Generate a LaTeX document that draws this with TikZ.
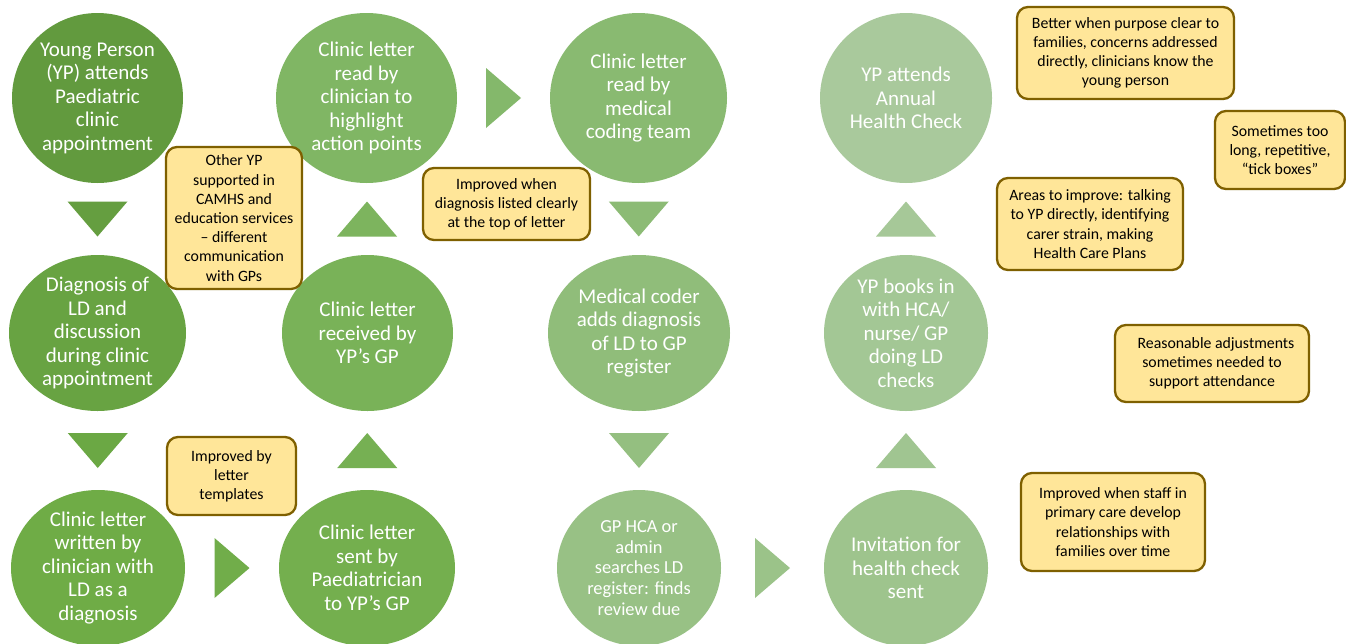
\documentclass[tikz,border=0pt]{standalone}
\usepackage{fontspec}
\setmainfont{Carlito}
\usetikzlibrary{shapes.geometric,calc}
\definecolor{c11}{HTML}{629A3E}
\definecolor{c21}{HTML}{68A342}
\definecolor{c31}{HTML}{6FAC46}
\definecolor{c32}{HTML}{74AF4E}
\definecolor{c22}{HTML}{79B258}
\definecolor{c12}{HTML}{80B664}
\definecolor{c13}{HTML}{89BA71}
\definecolor{c23}{HTML}{90BD7A}
\definecolor{c33}{HTML}{98C185}
\definecolor{c34}{HTML}{9EC48D}
\definecolor{c24}{HTML}{A3C795}
\definecolor{c14}{HTML}{A9C99C}
\definecolor{notefill}{HTML}{FFE699}
\definecolor{noteline}{HTML}{7F6000}
\tikzset{
  bubble/.style={ellipse, inner sep=0pt, outer sep=0pt, draw=none},
  btext/.style={text=white, align=center, inner sep=0pt, font=\fontsize{21}{23.5}\selectfont},
  btextsmall/.style={text=white, align=center, inner sep=0pt, font=\fontsize{18.4}{20.7}\selectfont},
  note/.style={draw=noteline, line width=2.3pt, fill=notefill, rounded corners=11pt,
    align=center, inner sep=0pt, text=black, font=\fontsize{15.8}{19.2}\selectfont},
  tridown/.pic={\fill (-30,-17.5) -- (30,-17.5) -- (0,17.5) -- cycle;},
  triup/.pic={\fill (-30,17.5) -- (30,17.5) -- (0,-17.5) -- cycle;},
  triright/.pic={\fill (-17.5,-30) -- (-17.5,30) -- (17.5,0) -- cycle;},
}
\begin{document}
\begin{tikzpicture}[x=1pt,y=-1pt]
\fill[white] (0,0) rectangle (1346,643);
\clip (0,0) rectangle (1346,643);
% circles row 1
\node[bubble, fill=c11, minimum width=171pt, minimum height=170pt] (n11) at (97.5,98) {};
\node[bubble, fill=c12, minimum width=181pt, minimum height=170pt] (n12) at (366.5,98) {};
\node[bubble, fill=c13, minimum width=177pt, minimum height=170pt] (n13) at (638.5,98) {};
\node[bubble, fill=c14, minimum width=172pt, minimum height=170pt] (n14) at (906,98) {};
% row 2
\node[bubble, fill=c21, minimum width=177pt, minimum height=156pt] (n21) at (97.5,333) {};
\node[bubble, fill=c22, minimum width=171pt, minimum height=156pt] (n22) at (367.5,333) {};
\node[bubble, fill=c23, minimum width=182pt, minimum height=156pt] (n23) at (639,333) {};
\node[bubble, fill=c24, minimum width=164pt, minimum height=156pt] (n24) at (906,333) {};
% row 3
\node[bubble, fill=c31, minimum width=174pt, minimum height=156pt] (n31) at (98,568) {};
\node[bubble, fill=c32, minimum width=176pt, minimum height=156pt] (n32) at (367,568) {};
\node[bubble, fill=c33, minimum width=164pt, minimum height=156pt] (n33) at (639,568) {};
\node[bubble, fill=c34, minimum width=164pt, minimum height=156pt] (n34) at (906,568) {};
% texts
\node[btext] (t11) at (n11) {Young Person\\(YP) attends\\Paediatric\\clinic\\appointment};
\node[btext] (t21) at (n21) {Diagnosis of\\LD and\\discussion\\during clinic\\appointment};
\node[btext] (t31) at (n31) {Clinic letter\\written by\\clinician with\\LD as a\\diagnosis};
\node[btext] (t32) at (n32) {Clinic letter\\sent by\\Paediatrician\\to YP’s GP};
\node[btext] (t22) at (n22) {Clinic letter\\received by\\YP’s GP};
\node[btext] (t12) at (n12) {Clinic letter\\read by\\clinician to\\highlight\\action points};
\node[btext] (t13) at (n13) {Clinic letter\\read by\\medical\\coding team};
\node[btext] (t23) at (n23) {Medical coder\\adds diagnosis\\of LD to GP\\register};
\node[btextsmall] (t33) at (n33) {GP HCA or\\admin\\searches LD\\register: finds\\review due};
\node[btext] (t34) at (n34) {Invitation for\\health check\\sent};
\node[btext] (t24) at (n24) {YP books in\\with HCA/\\nurse/ GP\\doing LD\\checks};
\node[btext] (t14) at (n14) {YP attends\\Annual\\Health Check};
% arrow triangles
\pic[fill={c11!50!c21}] at ($(n11.south)!0.5!(n21.north)$) {tridown};
\pic[fill={c21!50!c31}] at ($(n21.south)!0.5!(n31.north)$) {tridown};
\pic[fill={c31!50!c32}] at ($(n31.east)!0.5!(n32.west)$) {triright};
\pic[fill={c32!50!c22}] at ($(n32.north)!0.5!(n22.south)$) {triup};
\pic[fill={c22!50!c12}] at ($(n22.north)!0.5!(n12.south)$) {triup};
\pic[fill={c12!50!c13}] at ($(n12.east)!0.5!(n13.west)$) {triright};
\pic[fill={c13!50!c23}] at ($(n13.south)!0.5!(n23.north)$) {tridown};
\pic[fill={c23!50!c33}] at ($(n23.south)!0.5!(n33.north)$) {tridown};
\pic[fill={c33!50!c34}] at ($(n33.east)!0.5!(n34.west)$) {triright};
\pic[fill={c34!50!c24}] at ($(n34.north)!0.5!(n24.south)$) {triup};
\pic[fill={c24!50!c14}] at ($(n24.north)!0.5!(n14.south)$) {triup};
% notes
\node[note, minimum width=136pt, minimum height=142pt] (b1) at (234,218) {Other YP\\supported in\\CAMHS and\\education services\\– different\\communication\\with GPs};
\node[note, minimum width=129pt, minimum height=78pt] (b2) at (231.5,476) {Improved by\\letter\\templates};
\node[note, minimum width=167pt, minimum height=72pt] (b3) at (506.5,204) {Improved when\\diagnosis listed clearly\\at the top of letter};
\node[note, minimum width=217pt, minimum height=92pt] (b4) at (1125.5,53) {Better when purpose clear to\\families, concerns addressed\\directly, clinicians know the\\young person};
\node[note, minimum width=130pt, minimum height=78pt] (b5) at (1280,150) {Sometimes too\\long, repetitive,\\“tick boxes”};
\node[note, minimum width=186pt, minimum height=92pt] (b6) at (1090,224) {Areas to improve: talking\\to YP directly, identifying\\carer strain, making\\Health Care Plans};
\node[note, minimum width=194pt, minimum height=77pt] (b7) at (1212,363.5) {\hspace*{8pt}Reasonable adjustments\\sometimes needed to\\support attendance};
\node[note, minimum width=184pt, minimum height=98pt] (b8) at (1113,522) {Improved when staff in\\primary care develop\\relationships with\\families over time};
\end{tikzpicture}
\end{document}
